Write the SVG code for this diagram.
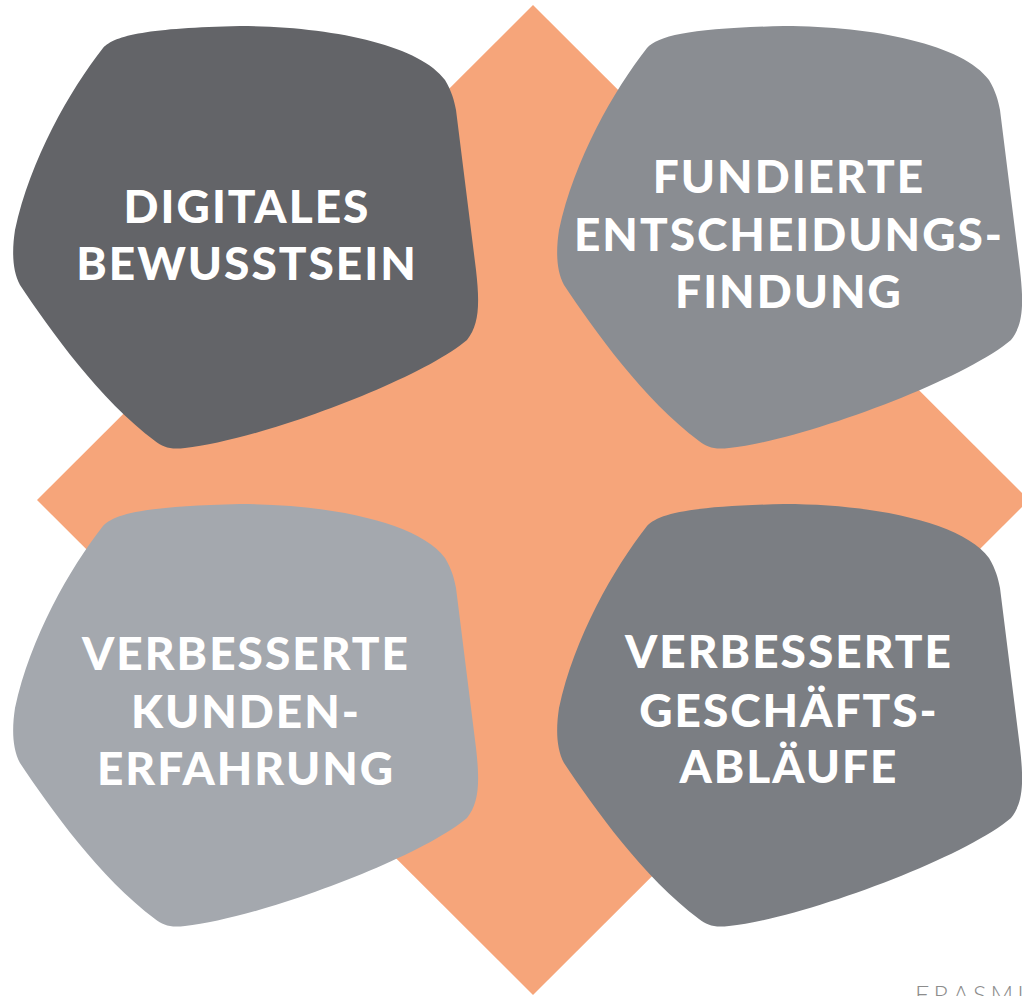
<svg xmlns="http://www.w3.org/2000/svg" xmlns:xlink="http://www.w3.org/1999/xlink" width="1022" height="996" viewBox="0 0 1022 996">
  <style>
    .label { font-family: "Lato", "Liberation Sans", sans-serif; font-weight: 900; font-size: 46px; fill: #ffffff; text-anchor: middle; letter-spacing: 2px; }
    .brand { font-family: "Lato", "Liberation Sans", sans-serif; font-weight: 300; font-size: 25px; fill: #8c8c8c; letter-spacing: 4px; }
  </style>
  <defs>
    <!-- rounded pentagon blob shared by all four tiles -->
    <path id="blob" d="M 103 48 C 115 35, 150 28, 240 26 C 330 26, 420 45, 445 80 C 452 92, 454 100, 456 110 L 476 270 C 480 305, 479 325, 467 340 C 420 380, 260 440, 185 448 C 170 450, 163 447, 155 441 C 100 400, 50 330, 20 285 C 12 270, 12 250, 15 230 C 30 160, 70 90, 103 48 Z"/>
  </defs>

  <rect width="1022" height="996" fill="#ffffff"/>

  <!-- orange diamond behind the tiles -->
  <polygon id="diamond" points="533,5 1029,500 533,995 37,500" fill="#f6a57a"/>

  <g id="node-digital">
    <use xlink:href="#blob" fill="#636468"/>
    <text class="label" x="247" y="223">DIGITALES</text>
    <text class="label" x="247" y="280">BEWUSSTSEIN</text>
  </g>

  <g id="node-decision">
    <use xlink:href="#blob" transform="translate(544,0)" fill="#8a8d92"/>
    <text class="label" x="789" y="193">FUNDIERTE</text>
    <text class="label" x="789" y="251">ENTSCHEIDUNGS-</text>
    <text class="label" x="789" y="308">FINDUNG</text>
  </g>

  <g id="node-customer">
    <use xlink:href="#blob" transform="translate(0,478)" fill="#a4a8ae"/>
    <text class="label" x="246" y="670">VERBESSERTE</text>
    <text class="label" x="246" y="728">KUNDEN-</text>
    <text class="label" x="246" y="785">ERFAHRUNG</text>
  </g>

  <g id="node-operations">
    <use xlink:href="#blob" transform="translate(544,478)" fill="#7b7e83"/>
    <text class="label" x="789" y="668">VERBESSERTE</text>
    <text class="label" x="789" y="727">GESCHÄFTS-</text>
    <text class="label" x="789" y="783">ABLÄUFE</text>
  </g>

  <g id="connectors"/>

  <text class="brand" x="915" y="1004">ERASMI</text>
</svg>
